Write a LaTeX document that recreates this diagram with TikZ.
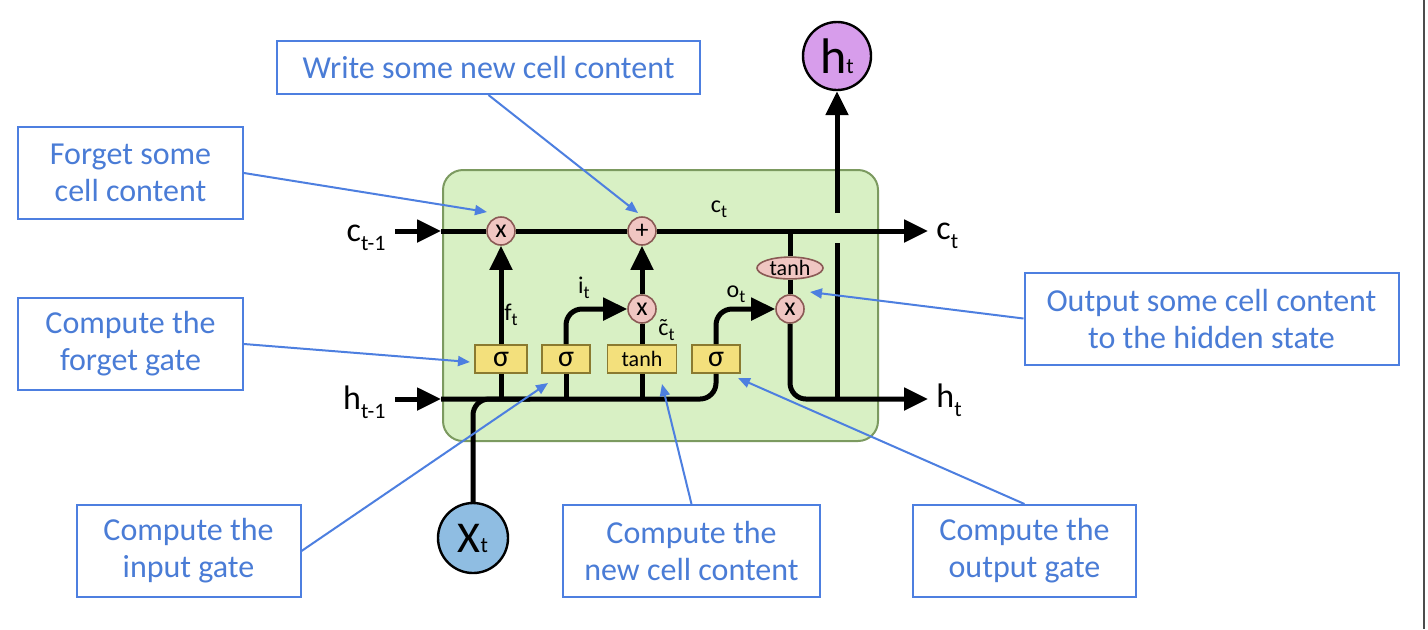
\documentclass[tikz,border=0pt]{standalone}
\usepackage{fontspec}
\setmainfont{Carlito}
\usetikzlibrary{arrows.meta,shapes.geometric}
\definecolor{cellfill}{HTML}{D8F0C4}
\definecolor{celldraw}{HTML}{7C9A60}
\definecolor{gatefill}{HTML}{F3E07C}
\definecolor{gatedraw}{HTML}{8A7A30}
\definecolor{opfill}{HTML}{F0C6C2}
\definecolor{opdraw}{HTML}{8A5A55}
\definecolor{xfill}{HTML}{8FBDE2}
\definecolor{hfill}{HTML}{D79DEB}
\definecolor{note}{HTML}{4A7CD6}
\definecolor{notedraw}{HTML}{4D7FE0}
\newcommand\bsub[1]{\raisebox{-4.5pt}{\fontsize{11}{11}\selectfont #1}}
\newcommand\ssub[1]{\raisebox{-2.5pt}{\fontsize{9}{9}\selectfont #1}}
\newcommand\tildec{\accent"02DC c}
\tikzset{
  bigtip/.tip={Triangle[length=12pt,width=11pt]},
  smalltip/.tip={Triangle[length=6pt,width=5pt]},
  main/.style={line width=2.5pt,black},
  gatebox/.style={draw=gatedraw,fill=gatefill,line width=0.8pt,minimum height=14pt,inner sep=0pt,font=\fontsize{15}{15}\selectfont},
  opnode/.style={circle,draw=opdraw,fill=opfill,line width=0.8pt,minimum size=14pt,inner sep=0pt,font=\fontsize{13}{13}\selectfont},
  biglab/.style={font=\fontsize{17}{17}\selectfont,inner sep=0pt},
  smalllab/.style={font=\fontsize{12}{12}\selectfont,inner sep=0pt},
  notebox/.style={draw=notedraw,line width=1pt,text=note,align=center,inner sep=0pt,font=\fontsize{16}{18.5}\selectfont},
  lead/.style={draw=notedraw,line width=1pt,-smalltip},
}
\begin{document}
\begin{tikzpicture}[x=0.5pt,y=-0.5pt]
\useasboundingbox (0,0) rectangle (1428,629);
\fill[white] (0,0) rectangle (1428,629);
\draw[line width=1.2pt,black!70] (1424,0) -- (1424,629);

% cell
\draw[fill=cellfill,draw=celldraw,line width=1pt,rounded corners=10pt] (443,170) rectangle (878,441);

% gates
\node[gatebox,minimum width=26pt] (fg) at (501,359) {σ};
\node[gatebox,minimum width=24pt] (ig) at (566,359) {σ};
\node[gatebox,minimum width=34.5pt,font=\fontsize{11}{11}\selectfont] (tb) at (642,359) {tanh};
\node[gatebox,minimum width=24pt] (og) at (716,359) {σ};

% pointwise ops
\node[opnode] (fx) at (501,231) {x};
\node[opnode] (plus) at (642,231) {+};
\node[opnode] (ix) at (642,309) {x};
\node[opnode] (ox) at (790,309) {x};
\node[ellipse,draw=opdraw,fill=opfill,line width=0.8pt,minimum width=33pt,minimum height=9pt,inner sep=0pt,font=\fontsize{11}{11}\selectfont] (th) at (790,268) {tanh};

% input / output circles
\node[circle,draw=black,line width=1.2pt,fill=xfill,minimum size=35pt,inner sep=0pt] (xt) at (473,538) {\fontsize{22}{22}\selectfont X\fontsize{11}{11}\selectfont t};
\node[circle,draw=black,line width=1.2pt,fill=hfill,minimum size=34pt,inner sep=0pt] (ht) at (837,56) {\fontsize{25}{25}\selectfont h\fontsize{11}{11}\selectfont t};

% coordinates
\coordinate (ca) at (395,231);
\coordinate (cin) at (441,231);
\coordinate (cout) at (928,231);
\coordinate (ha) at (395,399);
\coordinate (hin) at (441,399);
\coordinate (hout) at (928,399);
\coordinate (cb) at (790,231);
\coordinate (hv) at (837,399);
\coordinate (g1) at (837,243);
\coordinate (g2) at (837,213);
\coordinate (xj) at (530,399);

% outside labels
\node[biglab,anchor=base east] (ctm1) at (386,241) {c\bsub{t-1}};
\node[biglab,anchor=base east] (htm1) at (386,409) {h\bsub{t-1}};
\node[biglab,anchor=base west] (ctr) at (936,239) {c\bsub{t}};
\node[biglab,anchor=base west] (htr) at (936,407) {h\bsub{t}};

% inner labels
\node[smalllab,anchor=base west] (fl) at (504,320) {f\ssub{t}};
\node[smalllab,anchor=base] (il) at (584,293) {i\ssub{t}};
\node[smalllab,anchor=base] (cl) at (719,212) {c\ssub{t}};
\node[smalllab,anchor=base] (ol) at (736,297) {o\ssub{t}};
\node[smalllab,anchor=base west] (ctl) at (658,335) {\tildec\ssub{t}};

% cell-state line
\draw[main,-bigtip] (ca) -- (cin);
\draw[main] (cin) -- (fx.west);
\draw[main] (fx.east) -- (plus.west);
\draw[main,-bigtip] (plus.east) -- (cout);

% hidden line
\draw[main,-bigtip] (ha) -- (hin);
\draw[main,rounded corners=8pt] (hin) -| (og.south);
\draw[main,rounded corners=8pt] (xt.north) |- (xj);
\draw[main] (fg.south) -- (fg.south |- hin);
\draw[main] (ig.south) -- (ig.south |- hin);
\draw[main] (tb.south) -- (tb.south |- hin);

% gate arrows
\draw[main,-bigtip] (fg.north) -- (fx.south);
\draw[main,-bigtip,rounded corners=8pt] (ig.north) |- (ix.west);
\draw[main] (tb.north) -- (ix.south);
\draw[main,-bigtip] (ix.north) -- (plus.south);
\draw[main,-bigtip,rounded corners=8pt] (og.north) |- (ox.west);

% output branch
\draw[main] (cb) -- (th.north);
\draw[main] (th.south) -- (ox.north);
\draw[main,-bigtip,rounded corners=8pt] (ox.south) |- (hout);
\draw[main] (hv) -- (g1);
\draw[main,-bigtip] (g2) -- (ht.south);

% note boxes
\node[notebox,minimum width=211.5pt,minimum height=26.5pt] (wbox) at (488.5,67.5) {Write some new cell content};
\node[notebox,minimum width=112.5pt,minimum height=46pt] (fcbox) at (130.5,173) {Forget some\\cell content};
\node[notebox,minimum width=112.5pt,minimum height=46pt] (fgbox) at (130.5,344) {Compute the\\forget gate};
\node[notebox,minimum width=187pt,minimum height=46pt] (obox) at (1211.5,318.5) {Output some cell content\\to the hidden state};
\node[notebox,minimum width=112pt,minimum height=46pt] (ibox) at (188.5,551) {Compute the\\input gate};
\node[notebox,minimum width=128.5pt,minimum height=46pt] (nbox) at (691.5,551) {Compute the\\new cell content};
\node[notebox,minimum width=111.5pt,minimum height=46pt] (ogbox) at (1024.5,551) {Compute the\\output gate};

% leader tips
\coordinate (t1) at (487,212);
\coordinate (t2) at (638,213);
\coordinate (t3) at (470,362);
\coordinate (t4) at (548,383);
\coordinate (t5) at (662,384);
\coordinate (t6) at (738,378);
\coordinate (t7) at (810,292);

\draw[lead] (fcbox.east) -- (t1);
\draw[lead] (wbox.south) -- (t2);
\draw[lead] (fgbox.east) -- (t3);
\draw[lead] (ibox.east) -- (t4);
\draw[lead] (nbox.north) -- (t5);
\draw[lead] (ogbox.north) -- (t6);
\draw[lead] (obox.west) -- (t7);
\end{tikzpicture}
\end{document}
